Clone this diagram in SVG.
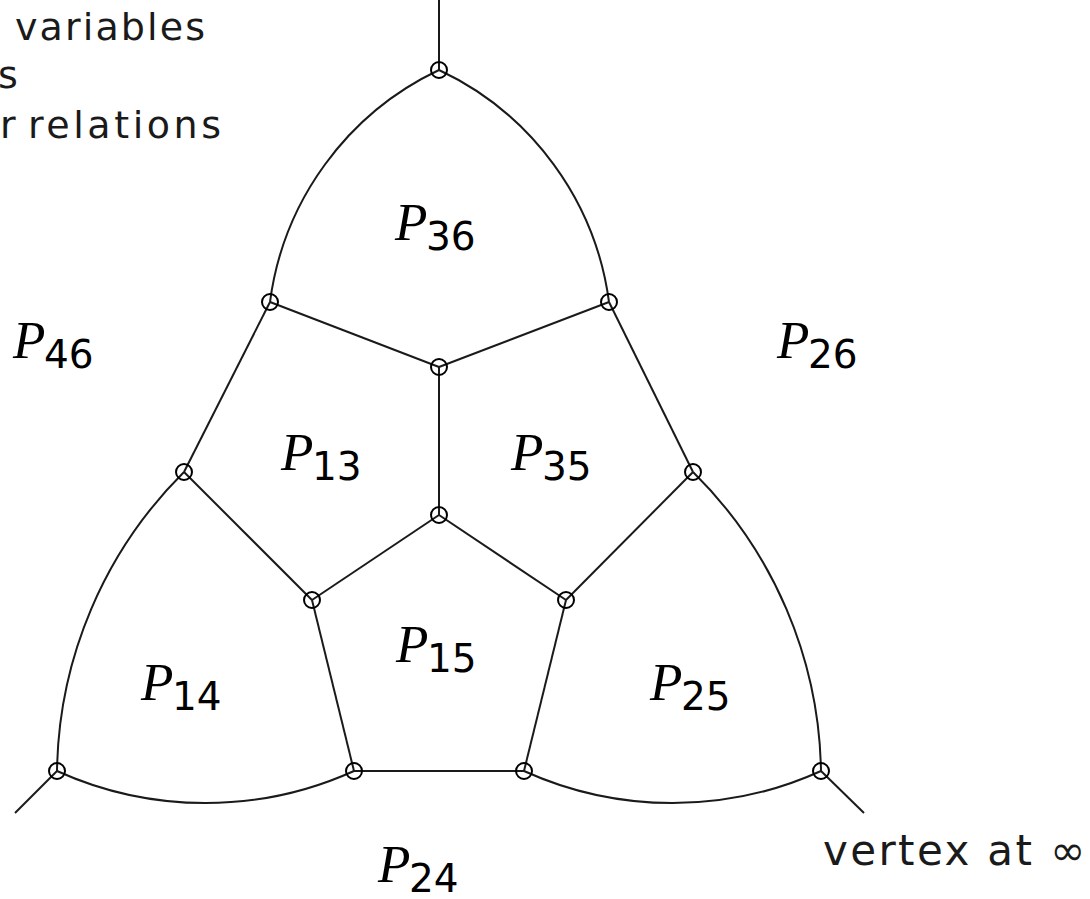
<svg xmlns="http://www.w3.org/2000/svg" width="1090" height="899" viewBox="0 0 1090 899">
<style>
.e{fill:none;stroke:#1a1a1a;stroke-width:2}
.n{fill:none;stroke:#000;stroke-width:2}
.p{font-family:"Liberation Serif",serif;font-style:italic;font-size:53px;fill:#000}
.s{font-family:"DejaVu Sans",sans-serif;font-size:39px;fill:#000}
.t{font-family:"DejaVu Sans",sans-serif;fill:#1a1a1a}
</style>
<rect width="1090" height="899" fill="#fff"/>
<g id="connectors">
<line class="e" x1="439" y1="0" x2="439" y2="70"/>
<line class="e" x1="57" y1="771" x2="15" y2="813"/>
<line class="e" x1="821" y1="771" x2="864" y2="813"/>
<path class="e" d="M439,70 A300,300 0 0 0 270,302"/>
<path class="e" d="M439,70 A300,300 0 0 1 609,302"/>
<path class="e" d="M184,472 A430,430 0 0 0 57,771"/>
<path class="e" d="M693,472 A430,430 0 0 1 821,771"/>
<path class="e" d="M57,771 A360,360 0 0 0 354,771"/>
<path class="e" d="M524,771 A360,360 0 0 0 821,771"/>
<line class="e" x1="270" y1="302" x2="439" y2="367"/>
<line class="e" x1="609" y1="302" x2="439" y2="367"/>
<line class="e" x1="439" y1="367" x2="439" y2="515"/>
<line class="e" x1="270" y1="302" x2="184" y2="472"/>
<line class="e" x1="609" y1="302" x2="693" y2="472"/>
<line class="e" x1="184" y1="472" x2="312" y2="600"/>
<line class="e" x1="693" y1="472" x2="566" y2="600"/>
<line class="e" x1="439" y1="515" x2="312" y2="600"/>
<line class="e" x1="439" y1="515" x2="566" y2="600"/>
<line class="e" x1="312" y1="600" x2="354" y2="771"/>
<line class="e" x1="566" y1="600" x2="524" y2="771"/>
<line class="e" x1="354" y1="771" x2="524" y2="771"/>
</g>
<g id="v-top"><circle class="n" cx="439" cy="70" r="8"/></g>
<g id="v-a"><circle class="n" cx="270" cy="302" r="8"/></g>
<g id="v-b"><circle class="n" cx="609" cy="302" r="8"/></g>
<g id="v-c"><circle class="n" cx="439" cy="367" r="8"/></g>
<g id="v-d"><circle class="n" cx="184" cy="472" r="8"/></g>
<g id="v-e"><circle class="n" cx="693" cy="472" r="8"/></g>
<g id="v-f"><circle class="n" cx="439" cy="515" r="8"/></g>
<g id="v-g"><circle class="n" cx="312" cy="600" r="8"/></g>
<g id="v-h"><circle class="n" cx="566" cy="600" r="8"/></g>
<g id="v-i"><circle class="n" cx="57" cy="771" r="8"/></g>
<g id="v-j"><circle class="n" cx="354" cy="771" r="8"/></g>
<g id="v-k"><circle class="n" cx="524" cy="771" r="8"/></g>
<g id="v-l"><circle class="n" cx="821" cy="771" r="8"/></g>
<g id="labels">
<g id="P36"><text class="p" x="395" y="240">P</text><text class="s" x="426" y="250">36</text></g>
<g id="P46"><text class="p" x="13" y="358">P</text><text class="s" x="44" y="368">46</text></g>
<g id="P26"><text class="p" x="777" y="358">P</text><text class="s" x="808" y="368">26</text></g>
<g id="P13"><text class="p" x="281" y="470">P</text><text class="s" x="312" y="480">13</text></g>
<g id="P35"><text class="p" x="511" y="470">P</text><text class="s" x="542" y="480">35</text></g>
<g id="P15"><text class="p" x="396" y="662">P</text><text class="s" x="427" y="672">15</text></g>
<g id="P14"><text class="p" x="141" y="700">P</text><text class="s" x="172" y="710">14</text></g>
<g id="P25"><text class="p" x="650" y="700">P</text><text class="s" x="681" y="710">25</text></g>
<g id="P24"><text class="p" x="378" y="882">P</text><text class="s" x="409" y="892">24</text></g>
</g>
<g id="notes">
<text class="t" font-size="38" x="15" y="40" textLength="190" lengthAdjust="spacing">variables</text>
<text class="t" font-size="38" x="-2" y="88">s</text>
<text class="t" font-size="38" x="0" y="138">r</text>
<text class="t" font-size="38" x="28" y="138" textLength="193" lengthAdjust="spacing">relations</text>
<text class="t" font-size="42" x="823" y="865" textLength="262" lengthAdjust="spacing">vertex at ∞</text>
</g>
</svg>
